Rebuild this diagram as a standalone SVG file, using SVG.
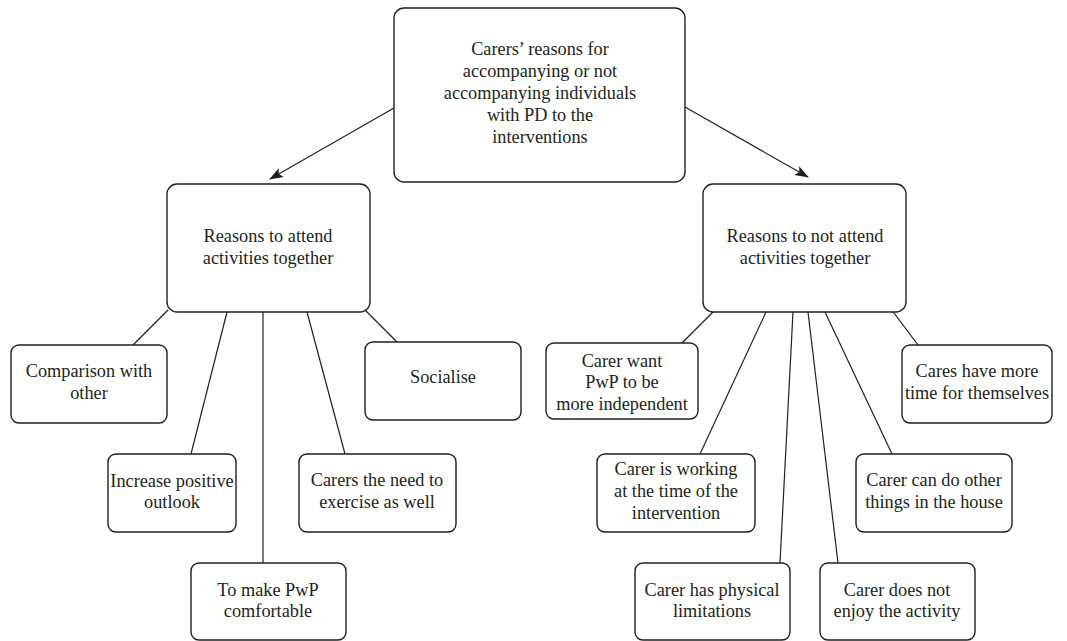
<svg xmlns="http://www.w3.org/2000/svg" width="1067" height="641" viewBox="0 0 1067 641">
<style>
.box{fill:#fff;stroke:#231f20;stroke-width:1.4}
.t{font-family:"Liberation Serif","Times New Roman",serif;font-size:18.3px;fill:#231f20;text-anchor:middle}
.c{stroke:#231f20;stroke-width:1.2;fill:none}
</style>
<defs>
<marker id="arr" markerWidth="14" markerHeight="10" refX="13" refY="5" orient="auto" markerUnits="userSpaceOnUse">
<path d="M0,0 L14,5 L0,10 L3,5 Z" fill="#231f20"/>
</marker>
</defs>
<rect width="1067" height="641" fill="#fff"/>
<g id="connectors">
<line class="c" x1="394" y1="108" x2="270" y2="179" marker-end="url(#arr)"/>
<line class="c" x1="685" y1="107" x2="808" y2="177" marker-end="url(#arr)"/>
<line class="c" x1="168" y1="310" x2="133" y2="345"/>
<line class="c" x1="227" y1="312" x2="191" y2="454"/>
<line class="c" x1="263" y1="312" x2="263" y2="563"/>
<line class="c" x1="307" y1="312" x2="345" y2="454"/>
<line class="c" x1="365" y1="310" x2="397" y2="342"/>
<line class="c" x1="713" y1="312" x2="682" y2="343"/>
<line class="c" x1="766" y1="312" x2="700" y2="454"/>
<line class="c" x1="793" y1="312" x2="780" y2="563"/>
<line class="c" x1="808" y1="312" x2="838" y2="563"/>
<line class="c" x1="825" y1="312" x2="892" y2="454"/>
<line class="c" x1="891" y1="309" x2="918" y2="345"/>
</g>
<g id="root">
<rect class="box" x="394" y="8" width="291" height="174" rx="10"/>
<text class="t" x="540" y="55">Carers’ reasons for</text>
<text class="t" x="540" y="77">accompanying or not</text>
<text class="t" x="540" y="99">accompanying individuals</text>
<text class="t" x="540" y="121">with PD to the</text>
<text class="t" x="540" y="143">interventions</text>
</g>
<g id="attend">
<rect class="box" x="167" y="184" width="203" height="128" rx="10"/>
<text class="t" x="268" y="242">Reasons to attend</text>
<text class="t" x="268" y="264">activities together</text>
</g>
<g id="notattend">
<rect class="box" x="703" y="184" width="203" height="128" rx="10"/>
<text class="t" x="805" y="242">Reasons to not attend</text>
<text class="t" x="805" y="264">activities together</text>
</g>
<g id="comparison">
<rect class="box" x="11" y="345" width="156" height="78" rx="8"/>
<text class="t" x="89" y="377">Comparison with</text>
<text class="t" x="89" y="399">other</text>
</g>
<g id="increase">
<rect class="box" x="108" y="454" width="128" height="78" rx="8"/>
<text class="t" x="172" y="487">Increase positive</text>
<text class="t" x="172" y="508">outlook</text>
</g>
<g id="comfortable">
<rect class="box" x="191" y="563" width="155" height="77" rx="8"/>
<text class="t" x="268" y="596">To make PwP</text>
<text class="t" x="268" y="617">comfortable</text>
</g>
<g id="exercise">
<rect class="box" x="299" y="454" width="157" height="78" rx="8"/>
<text class="t" x="377" y="486">Carers the need to</text>
<text class="t" x="377" y="508">exercise as well</text>
</g>
<g id="socialise">
<rect class="box" x="365" y="342" width="156" height="78" rx="8"/>
<text class="t" x="443" y="383">Socialise</text>
</g>
<g id="independent">
<rect class="box" x="546" y="343" width="152" height="76" rx="8"/>
<text class="t" x="622" y="367">Carer want</text>
<text class="t" x="622" y="388">PwP to be</text>
<text class="t" x="622" y="410">more independent</text>
</g>
<g id="working">
<rect class="box" x="597" y="454" width="158" height="78" rx="8"/>
<text class="t" x="676" y="475">Carer is working</text>
<text class="t" x="676" y="497">at the time of the</text>
<text class="t" x="676" y="519">intervention</text>
</g>
<g id="physical">
<rect class="box" x="635" y="563" width="155" height="77" rx="8"/>
<text class="t" x="712" y="596">Carer has physical</text>
<text class="t" x="712" y="617">limitations</text>
</g>
<g id="enjoy">
<rect class="box" x="820" y="563" width="155" height="77" rx="8"/>
<text class="t" x="897" y="596">Carer does not</text>
<text class="t" x="897" y="617">enjoy the activity</text>
</g>
<g id="house">
<rect class="box" x="856" y="454" width="156" height="78" rx="8"/>
<text class="t" x="934" y="486">Carer can do other</text>
<text class="t" x="934" y="508">things in the house</text>
</g>
<g id="time">
<rect class="box" x="902" y="345" width="150" height="78" rx="8"/>
<text class="t" x="977" y="377">Cares have more</text>
<text class="t" x="977" y="399">time for themselves</text>
</g>
</svg>
